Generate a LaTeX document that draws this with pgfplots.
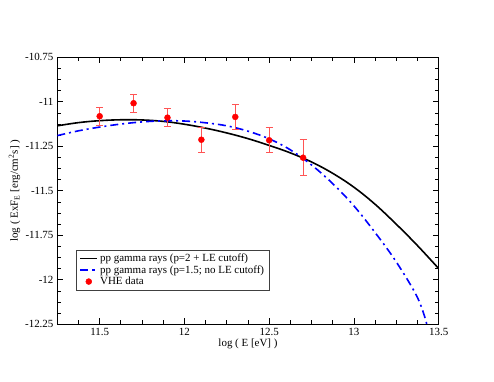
\documentclass[border=0pt]{standalone}
\usepackage{fontspec}
\setmainfont{Liberation Serif}
\usepackage{pgfplots}
\pgfplotsset{compat=1.18}
\definecolor{errred}{rgb}{1,0.33,0.33}
\begin{document}
\fontsize{11}{13.2}\selectfont
\begin{tikzpicture}
\path[use as bounding box] (-57.3bp,-57.7bp) rectangle (436.7bp,324.3bp);
\begin{axis}[
  scale only axis,
  width=381.4bp, height=267bp,
  xmin=11.25, xmax=13.5,
  ymin=-12.25, ymax=-10.75,
  xtick={11.5,12,12.5,13,13.5},
  minor xtick={11.375,11.625,11.75,11.875,12.125,12.25,12.375,12.625,12.75,12.875,13.125,13.25,13.375},
  ytick={-12.25,-12,-11.75,-11.5,-11.25,-11,-10.75},
  minor y tick num=3,
  tick pos=both,
  tick align=inside,
  major tick length=6bp,
  minor tick length=4bp,
  tick style={black, line width=0.8bp},
  axis line style={line width=1bp},
  /pgf/number format/assume math mode=true,
  yticklabel style={/pgf/number format/fixed, /pgf/number format/precision=2},
  xlabel={log ( E [eV] )},
  ylabel={log ( ExF\textsubscript{E} [erg/cm\textsuperscript{2}s] )},
  xlabel style={at={(axis description cs:0.5,-0.072)}, anchor=center},
  ylabel style={at={(axis description cs:-0.112,0.5)}, anchor=center},
  legend style={at={(axis description cs:0.0495,0.127)}, anchor=south west,
    draw=black!75, fill=white, row sep=-1.8bp,
    inner xsep=3bp, inner ysep=2bp},
  legend cell align=left,
]
\addplot[black, line width=1.6bp, smooth, tension=0.6,
  legend image code/.code={\draw[black, line width=1.8bp] (0bp,0bp) -- (17bp,0bp);}] table {
11.25 -11.135
11.375 -11.117
11.5 -11.106
11.625 -11.101
11.75 -11.102
11.875 -11.110
12.0 -11.126
12.125 -11.148
12.25 -11.175
12.375 -11.207
12.5 -11.245
12.625 -11.287
12.75 -11.338
12.875 -11.402
13.0 -11.480
13.125 -11.576
13.25 -11.688
13.375 -11.808
13.5 -11.937
};
\addlegendentry{pp gamma rays (p=2 + LE cutoff)}
\addplot[blue, line width=1.6bp, smooth, tension=0.6, dash pattern=on 8bp off 4bp on 2bp off 4bp] table {
11.25 -11.190
11.375 -11.163
11.5 -11.142
11.625 -11.125
11.75 -11.113
11.875 -11.107
12.0 -11.108
12.125 -11.118
12.25 -11.135
12.375 -11.165
12.5 -11.208
12.625 -11.270
12.75 -11.355
12.875 -11.460
13.0 -11.585
13.125 -11.735
13.25 -11.900
13.375 -12.100
13.43 -12.250
};
\addlegendentry{pp gamma rays (p=1.5; no LE cutoff)}
\addplot[only marks, mark=*, mark size=3bp, color=red, mark options={fill=red, draw=red},
  error bars/.cd, y dir=both, y explicit,
  error bar style={errred, line width=0.8bp},
  error mark options={rotate=90, mark size=3.5bp, errred, line width=0.8bp}]
  table[x=x, y=y, y error=e] {
x y e
11.5 -11.081 0.050
11.7 -11.008 0.050
11.9 -11.089 0.051
12.1 -11.213 0.070
12.3 -11.085 0.071
12.5 -11.216 0.071
12.7 -11.314 0.100
};
\addlegendentry{VHE data}
\end{axis}
\end{tikzpicture}
\end{document}
